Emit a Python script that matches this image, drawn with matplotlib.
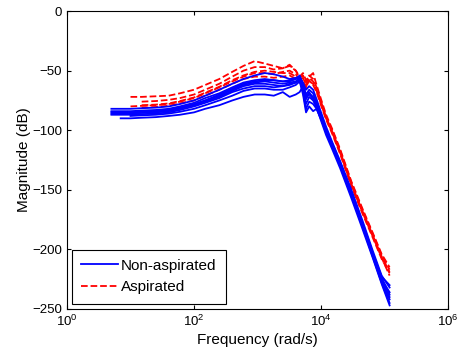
import numpy as np
import matplotlib
matplotlib.use("Agg")
import matplotlib.pyplot as plt

plt.rcParams['font.family'] = ['Liberation Sans', 'DejaVu Sans']

# frequency points (rad/s) shared by all curves
freq = [5, 7, 10, 15, 25, 40, 60, 100, 150, 250, 400, 600, 900, 1300, 1800,
        2500, 3200, 4000, 4600, 5200, 5800, 6500, 7500, 8500, 10000, 12000,
        15000, 20000, 30000, 45000, 65000, 90000, 120000]
nan = np.nan

# non-aspirated magnitude responses (dB)
non_aspirated = [
    [-82, -82, -82, -81.5, -81, -80, -78, -75, -71, -66, -61, -57, -54, -52, -53, -55, -57, -56, -55, -60, -66, -63, -66, -74, -85, -97, -110, -126, -150, -176, -201, -222, -232],
    [-84, -84, -84, -83.5, -83, -82, -80, -77, -73, -69, -64, -60, -58, -57, -58, -59, -59, -57, -55, -62, -70, -66, -69, -77, -87, -99, -111, -127, -152, -178, -203, -224, -238],
    [nan, -85, -85, -84.5, -84, -83, -81, -78, -75, -71, -66, -62, -60, -59, -60, -61, -60, -59, -56, -64, -74, -69, -72, -79, -89, -101, -113, -129, -154, -180, -205, -227, -242],
    [-86, -86, -86, -85.5, -85, -84, -82, -79, -76, -72, -67, -63, -61, -61, -62, -63, -62, -60, -57, -66, -78, -72, -75, -80, -90, -102, -114, -130, -155, -181, -206, -228, -245],
    [-87, -87, -87, -86.5, -86, -85, -83, -80, -77, -73, -68, -65, -63, -63, -64, -63, -61, -60, -58, -68, -82, -76, -78, -82, -91, -101, -112, -128, -153, -179, -204, -225, -236],
    [nan, nan, -88, -87.5, -87, -86, -84.5, -82, -79, -75, -71, -67, -65, -65, -66, -66, -64, -62, -59, -70, -85, -80, -84, -82, -90, -100, -112, -128, -152, -178, -203, -223, -230],
    [nan, -90, -90, -89.5, -89, -88, -87, -85, -82, -79, -75, -72, -70, -70, -71, -68, -72, -70, -68, -63, -72, -68, -74, -80, -90, -102, -114, -130, -155, -181, -205, -226, -240],
    [-85, -85, -85, -84.5, -84, -83, -81.5, -78.5, -75, -70, -65, -61, -59, -58, -58, -59, -58, -57, -54, -62, -72, -70, -73, -81, -92, -104, -116, -132, -157, -183, -207, -229, -247],
]

# aspirated magnitude responses (dB)
aspirated = [
    [nan, nan, -72, -72, -71.5, -71, -69, -66, -62, -57, -51, -46, -42, -44, -46, -48, -46, -50, -55, -52, -58, -55, -52, -62, -74, -87, -99, -116, -143, -166, -186, -204, -215],
    [nan, nan, nan, -76, -75.5, -74.5, -73, -70, -66, -61, -55, -50, -47, -47, -49, -48, -45, -50, -56, -54, -60, -54, -57, -64, -76, -89, -101, -118, -145, -168, -188, -206, -219],
    [nan, nan, -80, -79.5, -79, -78, -76, -73, -69, -64, -59, -55, -52, -52, -53, -51, -50, -53, -58, -56, -62, -56, -59, -66, -78, -90, -102, -119, -146, -169, -189, -207, -222],
    [nan, nan, nan, -81, -80.5, -79.5, -77.5, -75, -71, -66, -61, -57, -55, -55, -56, -55, -54, -57, -60, -58, -64, -58, -62, -68, -79, -91, -103, -120, -147, -170, -190, -208, -220],
    [nan, nan, nan, -79, -78.5, -77.5, -75.5, -72.5, -68.5, -63.5, -58, -54, -51, -50, -51, -52, -52, -55, -57, -60, -63, -59, -61, -67, -77, -89, -100, -117, -144, -167, -187, -205, -217],
]

fig = plt.figure(figsize=(4.61, 3.58), dpi=100)
ax = fig.add_axes([0.1453, 0.137, 0.8267, 0.832])

for i, mag in enumerate(aspirated):
    ax.semilogx(freq, mag, color='red', linestyle='--', linewidth=1.3,
                label='Aspirated' if i == 0 else None)
for i, mag in enumerate(non_aspirated):
    ax.semilogx(freq, mag, color='blue', linestyle='-', linewidth=1.3,
                label='Non-aspirated' if i == 0 else None)

ax.set_xlim(1, 1e6)
ax.set_ylim(-250, 0)
ax.set_xticks([1, 1e2, 1e4, 1e6])
ax.xaxis.set_minor_locator(matplotlib.ticker.NullLocator())
ax.set_yticks([0, -50, -100, -150, -200, -250])
ax.tick_params(direction='in', top=True, right=True, labelsize=9.5, length=3)
ax.set_xlabel('Frequency (rad/s)', fontsize=11, labelpad=3)
ax.set_ylabel('Magnitude (dB)', fontsize=11, labelpad=1)

handles, labels = ax.get_legend_handles_labels()
leg = ax.legend(handles[::-1], labels[::-1], loc='lower left', fontsize=11,
                fancybox=False, edgecolor='black', framealpha=1,
                borderaxespad=0.35, borderpad=0.6, labelspacing=0.5,
                handlelength=2.4, handletextpad=0.2)
leg.get_frame().set_linewidth(0.8)

fig.savefig('out.png', dpi=100)
